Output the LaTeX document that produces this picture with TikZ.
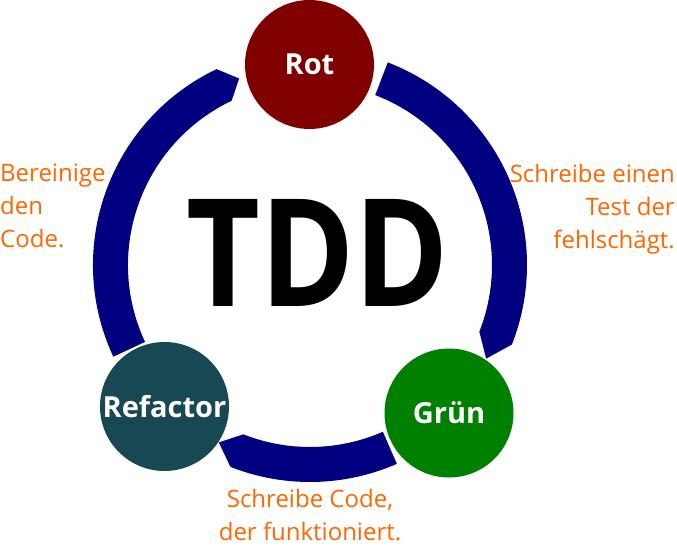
\documentclass[tikz,border=0pt]{standalone}
\usepackage{fontspec}
\setmainfont{Open Sans}
\definecolor{navyband}{HTML}{000080}
\definecolor{rotc}{HTML}{800000}
\definecolor{gruenc}{HTML}{008000}
\definecolor{refc}{HTML}{184854}
\definecolor{orangetxt}{HTML}{FF6600}
\begin{document}
\begin{tikzpicture}[x=1pt,y=1pt,
  phase/.style={circle, inner sep=0pt, minimum size=129pt, text=white, font=\bfseries\fontsize{29}{29}\selectfont},
  band/.style={fill=navyband},
  note/.style={text=orangetxt, font=\fontsize{24}{33}\selectfont, inner sep=0pt},
]
\useasboundingbox (-310,265) rectangle (367,-281);
\def\ri{182}\def\ro{217}\def\rm{199.5}
% bands (clockwise arrows)
\fill[band] (69:\ro) arc[start angle=69, end angle=-21.5, radius=\ro] -- (-28:\rm) -- (-21.5:\ri) arc[start angle=-21.5, end angle=69, radius=\ri] -- cycle;
\fill[band] (-66.4:\ro) arc[start angle=-66.4, end angle=-111.5, radius=\ro] -- (-117.2:\rm) -- (-111.5:\ri) arc[start angle=-111.5, end angle=-66.4, radius=\ri] -- cycle;
\fill[band] (205:\ro) arc[start angle=205, end angle=115.5, radius=\ro] -- (110.8:\rm) -- (115.5:\ri) arc[start angle=115.5, end angle=205, radius=\ri] -- cycle;
% phases
\node[phase, fill=rotc] (rot) at (-0.5,200.5) {Rot};
\node[phase, fill=gruenc] (gruen) at (139,-148) {Grün};
\node[phase, fill=refc] (refactor) at (-145.5,-141.5) {Refactor};
% center title
\node[anchor=base, inner sep=0pt] (tdd) at (8,-41) {\scalebox{0.85}[1]{\fontsize{150}{150}\selectfont\bfseries TDD}};
% notes
\node[note, anchor=north west, align=left] (clean) at (-310,101) {Bereinige\\den\\Code.};
\node[note, anchor=north east, align=right] (test) at (365,101) {Schreibe einen\\Test der\\fehlschägt.};
\node[note, anchor=north, align=center] (code) at (0,-224) {Schreibe Code,\\der funktioniert.};
\end{tikzpicture}
\end{document}
